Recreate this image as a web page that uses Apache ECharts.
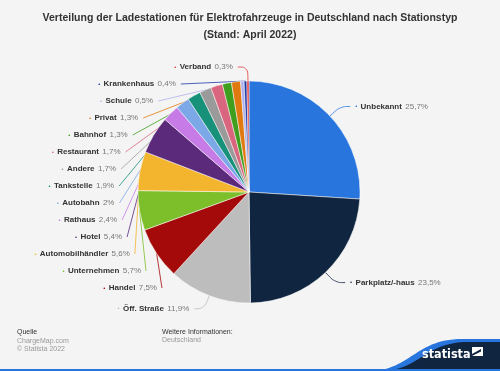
<!DOCTYPE html>
<html><head><meta charset="utf-8">
<script src="https://cdn.jsdelivr.net/npm/echarts@6/dist/echarts.min.js"></script>
<style>html,body{margin:0;padding:0;background:#f4f4f4}#c{width:500px;height:371px}</style>
</head><body><div id="c"></div>
<script>
const categories = ['Unbekannt','Parkplatz/-haus','Öff. Straße','Handel','Unternehmen','Automobilhändler','Hotel','Rathaus','Autobahn','Tankstelle','Andere','Restaurant','Bahnhof','Privat','Schule','Krankenhaus','Verband'];
const values = [25.7,23.5,11.9,7.5,5.7,5.6,5.4,2.4,2,1.9,1.7,1.7,1.3,1.3,0.5,0.4,0.3];
const colors = ['#2876dd','#0f2540','#bdbdbd','#a50a0a','#7cbf2a','#f3b52e','#5b2a7a','#c77be6','#7da8e8','#17917a','#9a9a9a','#d9667e','#3f9e1e','#e07a10','#b0b0ec','#1d3aa6','#e33a3a'];
const titleText = 'Verteilung der Ladestationen für Elektrofahrzeuge in Deutschland nach Stationstyp\n(Stand: April 2022)';

function wave(x0,y0,x1,y1){
  const pts=[];
  for(let i=0;i<=30;i++){const t=i/30;const cx1=x0+(x1-x0)*0.45, cx2=x0+(x1-x0)*0.5;
    const x=(1-t)**3*x0+3*(1-t)**2*t*cx1+3*(1-t)*t*t*cx2+t**3*x1;
    const y=(1-t)**3*y0+3*(1-t)**2*t*y0+3*(1-t)*t*t*y1+t**3*y1;pts.push([x,y]);}
  pts.push([500,y1]);pts.push([500,371]);pts.push([x0,371]);return pts;
}
const LH = 15;
const rich = {n:{fontWeight:'bold',color:'#333',fontSize:8,lineHeight:LH,fontFamily:'Liberation Sans'},v:{color:'#777',fontSize:8,lineHeight:LH,fontFamily:'Liberation Sans'}};
colors.forEach((c,i)=>{rich['d'+i]={color:c,fontSize:6,lineHeight:LH};});
const data = categories.map((n,i)=>({name:n,value:values[i]}));
const chart = echarts.init(document.getElementById('c'),null,{renderer:'canvas'});
chart.setOption({
  backgroundColor:'#f4f4f4',
  color:colors,
  title:{text:titleText,left:'center',top:5,textStyle:{fontFamily:'Liberation Sans',fontSize:10.5,fontWeight:'bold',color:'#333',lineHeight:17}},
  series:[{
    type:'pie',center:[249,192],radius:[0,111],startAngle:90,clockwise:true,
    avoidLabelOverlap:true,
    itemStyle:{borderColor:'#fff',borderWidth:0.5},
    label:{show:true,position:'outside',lineHeight:LH,formatter:p=>'{d'+p.dataIndex+'|•} {n|'+p.name+'} {v|'+String(p.value).replace('.',',')+'%}',rich:rich},
    labelLine:{show:true,length:14,length2:10,smooth:0.4,lineStyle:{width:0.8}},
    data:data
  }],
  graphic:[
    {type:'text',x:17,y:329,style:{text:'Quelle',fontSize:7,fill:'#333',fontFamily:'Liberation Sans'}},
    {type:'text',x:17,y:337,style:{text:'ChargeMap.com\n© Statista 2022',fontSize:7,lineHeight:8,fill:'#999',fontFamily:'Liberation Sans'}},
    {type:'text',x:162,y:329,style:{text:'Weitere Informationen:',fontSize:7,fill:'#333',fontFamily:'Liberation Sans'}},
    {type:'text',x:162,y:337,style:{text:'Deutschland',fontSize:7,fill:'#999',fontFamily:'Liberation Sans'}},
    {type:'polygon',shape:{points:wave(368,371,462,339)},style:{fill:'#2876dd'}},
    {type:'polygon',shape:{points:wave(380,371,468,342)},style:{fill:'#0f2540'}},
    {type:'rect',shape:{x:0,y:369,width:500,height:2},style:{fill:'#2876dd'}},
    {type:'text',x:422,y:348,style:{text:'statista',fontSize:12.5,fontWeight:'bold',fill:'#fff',fontFamily:'DejaVu Sans Condensed'}},
    {type:'polygon',shape:{points:[[472,347],[483,347],[483,356],[472,356]]},style:{fill:'#fff'}},
    {type:'polygon',shape:{points:[[472,354],[481,349],[481,351.5],[472,356]]},style:{fill:'#0f2540'}}
  ]
});
</script></body></html>
